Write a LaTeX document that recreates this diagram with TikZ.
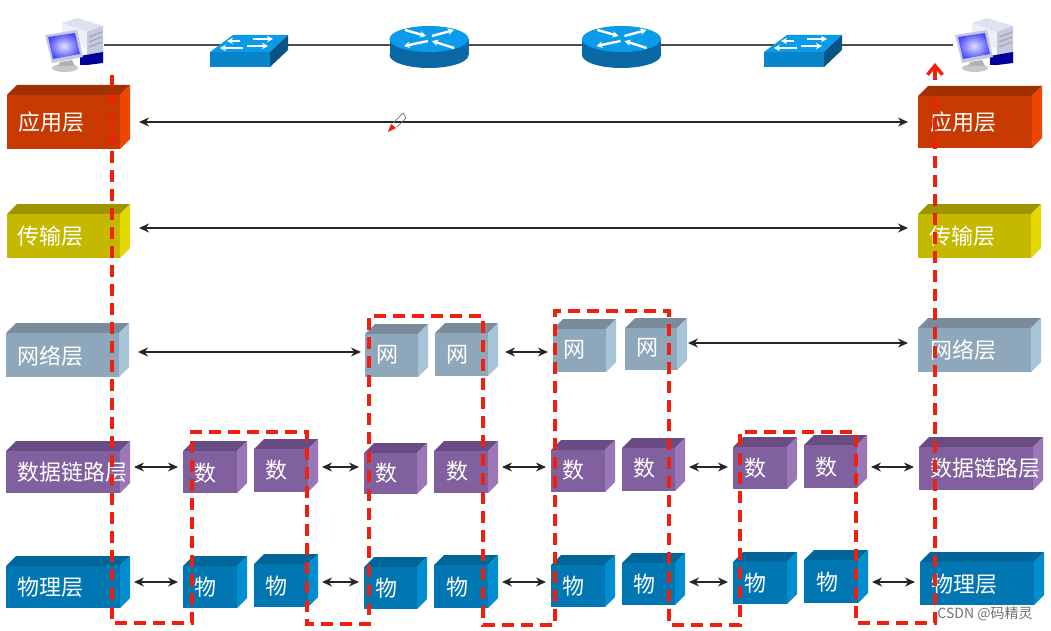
\documentclass[tikz,border=0pt]{standalone}
\usepackage{fontspec}
\setmainfont{Noto Sans CJK SC}
\usetikzlibrary{arrows.meta, calc}
\definecolor{applyfront}{RGB}{200, 58, 2}
\definecolor{applytop}{RGB}{163, 48, 0}
\definecolor{applyside}{RGB}{238, 69, 0}
\definecolor{transfront}{RGB}{196, 184, 0}
\definecolor{transtop}{RGB}{158, 148, 0}
\definecolor{transside}{RGB}{228, 216, 0}
\definecolor{netfront}{RGB}{143, 167, 186}
\definecolor{nettop}{RGB}{122, 140, 156}
\definecolor{netside}{RGB}{168, 196, 216}
\definecolor{datafront}{RGB}{129, 96, 159}
\definecolor{datatop}{RGB}{106, 76, 133}
\definecolor{dataside}{RGB}{155, 119, 184}
\definecolor{physfront}{RGB}{0, 119, 178}
\definecolor{phystop}{RGB}{0, 102, 153}
\definecolor{physside}{RGB}{0, 141, 210}
\definecolor{flowred}{RGB}{240, 32, 15}
\definecolor{devblue}{RGB}{10, 155, 235}
\definecolor{devdark}{RGB}{10, 105, 165}
\definecolor{towerlight}{RGB}{222, 225, 242}
\definecolor{towerside}{RGB}{236, 238, 248}
\definecolor{towerfront}{RGB}{196, 201, 222}

\tikzset{
  x=1pt, y=-1pt,
  boxlabel/.style={font=\fontsize{22}{22}\selectfont, text=white, inner sep=0pt},
  frontface/.style={anchor=north west, inner sep=0pt, outer sep=0pt},
  netline/.style={draw=black!70, line width=1.2pt},
  linkarrow/.style={{Stealth[length=10pt,width=9pt]}-{Stealth[length=10pt,width=9pt]}, black!85, line width=1.2pt, shorten <=4pt, shorten >=5pt},
  longarrow/.style={linkarrow, line width=1.4pt, shorten <=9pt, shorten >=10pt},
  flowline/.style={flowred, line width=3.5pt, dash pattern=on 12pt off 7pt},
  flowtip/.style={flowred, line width=3.5pt, -{Straight Barb[length=9pt,width=15pt]}},
  iconarrow/.style={white, line width=2.4pt, -{Stealth[length=6pt,width=6.5pt]}},
  hosticon/.pic={
    \fill[towerlight] (62,23) -- (77,18) -- (103,26) -- (87,32) -- cycle;
    \fill[towerside] (62,23) -- (87,32) -- (87,50) -- (62,33) -- cycle;
    \fill[towerfront] (87,32) -- (103,26) -- (103,62) -- (87,65) -- cycle;
    \draw[black!40, line width=0.8pt] (89,37) -- (102,32) (89,42) -- (102,37) (89,47) -- (102,42);
    \fill[blue!60!black] (80,56) -- (103,52) -- (103,63) -- (87,65) -- (80,65) -- cycle;
    \fill[black!22] (65,68) ellipse [x radius=13, y radius=4];
    \fill[black!30] (60,62) -- (72,60) -- (75,66) -- (58,66) -- cycle;
    \fill[towerfront] (45,35) -- (77,30) -- (83,57) -- (52,63) -- cycle;
    \shade[inner color=blue!12, outer color=blue!70] (48,37) -- (75,33) -- (80,54) -- (53,59) -- cycle;
  },
  switchicon/.pic={
    \fill[devblue!85!black] (-39,7) -- (21,7) -- (21,22) -- (-39,22) -- cycle;
    \fill[devblue] (-39,7) -- (-16,-10) -- (39,-10) -- (21,7) -- cycle;
    \fill[devdark!80!black] (21,7) -- (39,-10) -- (39,5) -- (21,22) -- cycle;
    \draw[iconarrow] (-9,-4) -- (-22,-4);
    \draw[iconarrow] (4,-6) -- (24,-6);
    \draw[iconarrow] (-6,3) -- (-29,3);
    \draw[iconarrow] (-2,1) -- (19,1);
  },
  routericon/.pic={
    \fill[devdark] (0,10) ellipse [x radius=39.5, y radius=13];
    \fill[devdark] (-39.5,-6) rectangle (39.5,10);
    \fill[devblue] (0,-6) ellipse [x radius=39.5, y radius=13];
    \draw[iconarrow] (-24,-15) -- (-3,-9);
    \draw[iconarrow] (3,-9) -- (25,-15);
    \draw[iconarrow] (-1,-4) -- (-25,1);
    \draw[iconarrow] (25,3) -- (3,-4);
  },
}

% name, colour, front corners x0 y0 x1 y1, label x y, label
\newcommand{\layerbox}[9]{
  \fill[#2top] (#3,#4) -- (#3+10,#4-10) -- (#5+10,#4-10) -- (#5,#4) -- cycle;
  \fill[#2side] (#5,#4) -- (#5+10,#4-10) -- (#5+10,#6-10) -- (#5,#6) -- cycle;
  \node[frontface, fill=#2front, minimum width={(#5-#3)*1pt}, minimum height={(#6-#4)*1pt}] (#1) at (#3,#4) {};
  \coordinate (#1-r) at (#5+10,#4);
  \node[boxlabel] (#1-text) at (#7,#8) {#9};
}

\begin{document}
\begin{tikzpicture}
  \useasboundingbox (0,0) rectangle (1051,631);

  % Top: the network line and its devices
  \coordinate (hostl) at (104,45);
  \coordinate (swl) at (249,45);
  \coordinate (routera) at (429,45);
  \coordinate (routerb) at (621.5,45);
  \coordinate (swr) at (803,45);
  \coordinate (hostr) at (953,45);
  \draw[netline] (hostl) -- (swl) -- (routera) -- (routerb) -- (swr) -- (hostr);
  \pic at (0,0) {hosticon};
  \pic at (910,0) {hosticon};
  \pic at (swl) {switchicon};
  \pic at (swr) {switchicon};
  \pic at (routera) {routericon};
  \pic at (routerb) {routericon};

  % Left and right stacks
  \layerbox{applyl}{apply}{7}{95}{120}{149}{51}{122}{应用层}
  \layerbox{transl}{trans}{7}{214}{120}{258}{50}{236}{传输层}
  \layerbox{netl}{net}{6}{333}{119}{377}{50}{356}{网络层}
  \layerbox{datal}{data}{6}{451}{120}{493}{72}{472}{数据链路层}
  \layerbox{physl}{phys}{6}{566}{120}{608}{50}{587}{物理层}
  \layerbox{applyr}{apply}{918}{96}{1032}{148}{963}{122}{应用层}
  \layerbox{transr}{trans}{918}{214}{1031}{258}{962}{236}{传输层}
  \layerbox{netr}{net}{918}{328}{1031}{372}{963}{350}{网络层}
  \layerbox{datar}{data}{919}{447}{1033}{490}{985}{468}{数据链路层}
  \layerbox{physr}{phys}{920}{562}{1034}{605}{964}{584}{物理层}

  % First switch
  \layerbox{dataa}{data}{183}{451}{237}{493}{205}{473}{数}
  \layerbox{datab}{data}{254}{449}{308}{492}{276.5}{470}{数}
  \layerbox{physa}{phys}{183}{566}{237}{608}{205}{587}{物}
  \layerbox{physb}{phys}{254}{564}{308}{607}{276.5}{586}{物}

  % First router
  \layerbox{netc}{net}{365}{334}{418}{377}{387}{355}{网}
  \layerbox{netd}{net}{435}{333}{488}{376}{457}{355}{网}
  \layerbox{datac}{data}{364}{453}{417}{494}{386}{473}{数}
  \layerbox{datad}{data}{434}{451}{488}{493}{457}{471}{数}
  \layerbox{physc}{phys}{364}{567}{417}{609}{386}{588}{物}
  \layerbox{physd}{phys}{434}{565}{488}{608}{457}{587}{物}

  % Second router
  \layerbox{nete}{net}{553}{329}{606}{372}{574}{350}{网}
  \layerbox{netf}{net}{625}{328}{677}{370}{647}{348}{网}
  \layerbox{datae}{data}{551}{450}{605}{492}{573}{470}{数}
  \layerbox{dataf}{data}{622}{448}{675}{491}{644}{468}{数}
  \layerbox{physe}{phys}{551}{565}{605}{607}{573}{586}{物}
  \layerbox{physf}{phys}{622}{563}{675}{605}{644}{584}{物}

  % Second switch
  \layerbox{datag}{data}{733}{447}{787}{489}{755}{468}{数}
  \layerbox{datah}{data}{804}{445}{857}{488}{826}{467}{数}
  \layerbox{physg}{phys}{733}{562}{787}{604}{755}{583}{物}
  \layerbox{physh}{phys}{804}{560}{858}{603}{827}{582}{物}

  % Peer arrows, row by row
  \coordinate (rowapply) at (0,122);
  \coordinate (rowtrans) at (0,228);
  \coordinate (rownet) at (0,352);
  \coordinate (rowneth) at (0,343);
  \coordinate (rowdata) at (0,467);
  \coordinate (rowphys) at (0,582);
  \draw[longarrow] (applyl-r |- rowapply) -- (applyr.west |- rowapply);
  \draw[longarrow] (transl-r |- rowtrans) -- (transr.west |- rowtrans);
  \draw[longarrow, shorten >=4pt] (netl-r |- rownet) -- (netc.west |- rownet);
  \draw[linkarrow, shorten <=7pt] (netd-r |- rownet) -- (nete.west |- rownet);
  \draw[longarrow, shorten <=1pt] (netf-r |- rowneth) -- (netr.west |- rowneth);
  \foreach \from/\to in {datal/dataa, datab/datac, datad/datae, dataf/datag, datah/datar}
    \draw[linkarrow] (\from-r |- rowdata) -- (\to.west |- rowdata);
  \foreach \from/\to in {physl/physa, physb/physc, physd/physe, physf/physg, physh/physr}
    \draw[linkarrow] (\from-r |- rowphys) -- (\to.west |- rowphys);

  % Red dashed route of the data
  \coordinate (flowstart) at (112,75);
  \coordinate (flowlast) at (935,92);
  \coordinate (flowgap) at (935,80);
  \coordinate (flowend) at (935,63);
  \draw[flowline] (flowstart) -- (112,623) -- (192,623) -- (192,432) -- (307,432) -- (307,624)
    -- (369,624) -- (369,316) -- (483,316) -- (483,625) -- (555,625) -- (555,311)
    -- (669,311) -- (669,625) -- (740,625) -- (740,432) -- (856,432) -- (856,623)
    -- (935,623) -- (flowlast);
  \draw[flowtip] (flowgap) -- (flowend);

  % Pen cursor
  \draw[black!55, line width=0.7pt] (393,123) -- (403,113) -- (406,118) -- (397,127);
  \fill[flowred] (388,132) -- (391,124) -- (396,128) -- cycle;

  \node[font=\fontsize{14}{14}\selectfont, text=black!55, inner sep=0pt] (mark) at (985,614) {CSDN @码精灵};
\end{tikzpicture}
\end{document}
